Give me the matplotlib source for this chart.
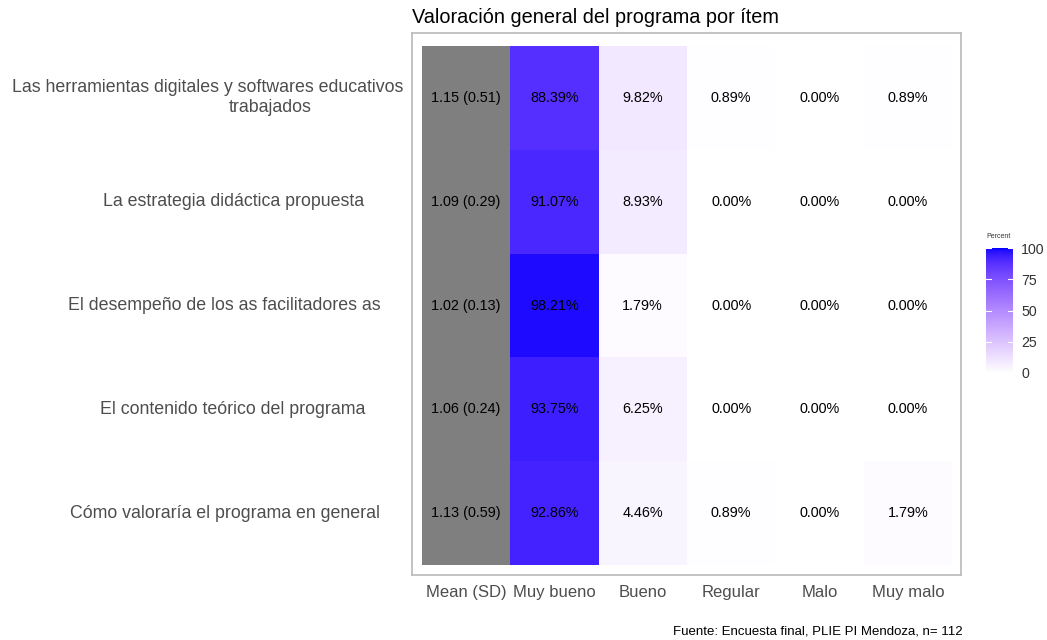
import numpy as np
import matplotlib
matplotlib.use("Agg")
import matplotlib.pyplot as plt
from matplotlib.colors import ListedColormap, Normalize
from matplotlib.transforms import blended_transform_factory

plt.rcParams['font.family'] = ['Liberation Sans', 'DejaVu Sans']

# ---------------- data ----------------
items = [
    "Las herramientas digitales y softwares educativos\ntrabajados",
    "La estrategia didáctica propuesta",
    "El desempeño de los as facilitadores as",
    "El contenido teórico del programa",
    "Cómo valoraría el programa en general",
]
columns = ["Mean (SD)", "Muy bueno", "Bueno", "Regular", "Malo", "Muy malo"]
mean_sd = ["1.15 (0.51)", "1.09 (0.29)", "1.02 (0.13)", "1.06 (0.24)", "1.13 (0.59)"]
muy_bueno = [88.39, 91.07, 98.21, 93.75, 92.86]
bueno = [9.82, 8.93, 1.79, 6.25, 4.46]
regular = [0.89, 0.00, 0.00, 0.00, 0.89]
malo = [0.00, 0.00, 0.00, 0.00, 0.00]
muy_malo = [0.89, 0.00, 0.00, 0.00, 1.79]
title = "Valoración general del programa por ítem"
caption = "Fuente: Encuesta final, PLIE PI Mendoza, n= 112"
legend_title = "Percent"
legend_ticks = [0, 25, 50, 75, 100]

# ---------------- colour scale (Lab interpolation white -> blue) ----------------
def srgb_to_lab(rgb):
    rgb = np.asarray(rgb, float)
    lin = np.where(rgb <= 0.04045, rgb / 12.92, ((rgb + 0.055) / 1.055) ** 2.4)
    M = np.array([[0.4124, 0.3576, 0.1805], [0.2126, 0.7152, 0.0722], [0.0193, 0.1192, 0.9505]])
    xyz = M @ lin
    wp = np.array([0.95047, 1.0, 1.08883])
    t = xyz / wp
    f = np.where(t > (6 / 29) ** 3, np.cbrt(t), t / (3 * (6 / 29) ** 2) + 4 / 29)
    return np.array([116 * f[1] - 16, 500 * (f[0] - f[1]), 200 * (f[1] - f[2])])

def lab_to_srgb(lab):
    L, a, b = lab
    fy = (L + 16) / 116
    fx = fy + a / 500
    fz = fy - b / 200
    def finv(f):
        return np.where(f > 6 / 29, f ** 3, 3 * (6 / 29) ** 2 * (f - 4 / 29))
    wp = np.array([0.95047, 1.0, 1.08883])
    xyz = np.array([finv(fx), finv(fy), finv(fz)]) * wp
    Minv = np.array([[3.2406, -1.5372, -0.4986], [-0.9689, 1.8758, 0.0415], [0.0557, -0.2040, 1.0570]])
    lin = Minv @ xyz
    lin = np.clip(lin, 0, 1)
    rgb = np.where(lin <= 0.0031308, 12.92 * lin, 1.055 * lin ** (1 / 2.4) - 0.055)
    return np.clip(rgb, 0, 1)

lab_lo = srgb_to_lab([1, 1, 1])
lab_hi = srgb_to_lab([0, 0, 1])
cols = [lab_to_srgb(lab_lo + (lab_hi - lab_lo) * t) for t in np.linspace(0, 1, 256)]
cmap = ListedColormap(cols)
norm = Normalize(0, 100)

# ---------------- figure ----------------
W, H = 1047, 640
fig = plt.figure(figsize=(W / 100, H / 100), dpi=100)
ax = fig.add_axes([412 / W, 1 - 575 / H, (961 - 412) / W, (575 - 33) / H])

n = len(items)
ypos = np.arange(n)[::-1]  # first item at top
pct = np.array([muy_bueno, bueno, regular, malo, muy_malo]).T  # rows x 5

xedges = np.arange(0.5, 6.5, 1.0)
yedges = np.arange(-0.5, n + 0.5, 1.0)
ax.pcolormesh(xedges, yedges, pct[::-1], cmap=cmap, norm=norm, shading='flat',
              edgecolors='none', antialiased=False)
ax.bar([0] * n, [1] * n, bottom=ypos - 0.5, width=1.0, color='#7F7F7F', linewidth=0)

for i in range(n):
    ax.text(0, ypos[i], mean_sd[i], ha='center', va='center', fontsize=10.4, color='black')
    for j in range(5):
        ax.text(j + 1, ypos[i], f"{pct[i, j]:.2f}%", ha='center', va='center',
                fontsize=10.4, color='black')

ax.set_xlim(-0.61, 5.6)
ax.set_ylim(-0.596, n - 0.375)
ax.set_xticks(range(len(columns)))
ax.set_xticklabels(columns, fontsize=12, color='#4D4D4D')
ax.set_yticks([])
ax.tick_params(axis='x', length=0, pad=7)
for s in ax.spines.values():
    s.set_color('#BEBEBE')
    s.set_linewidth(1.3)

# y labels (centred as in reference)
label_centres = [208, 233.5, 224, 232.5, 225]
tr = blended_transform_factory(fig.transFigure, ax.transData)
for i in range(n):
    lines = items[i].split("\n")
    xc = label_centres[i] / W
    if len(lines) == 1:
        ax.text(xc, ypos[i], lines[0], transform=tr, ha='center', va='center',
                fontsize=12.8, color='#4D4D4D')
    else:
        ax.text(xc, ypos[i] + 0.097, lines[0], transform=tr, ha='center', va='center',
                fontsize=12.8, color='#4D4D4D')
        ax.text(270.5 / W, ypos[i] - 0.097, lines[1], transform=tr, ha='center', va='center',
                fontsize=12.8, color='#4D4D4D')

fig.text(412 / W, 1 - 17.5 / H, title, ha='left', va='center', fontsize=14.3, color='black')
fig.text(963 / W, 1 - 632 / H, caption, ha='right', va='center', fontsize=9.5, color='black')

# colour bar
cax = fig.add_axes([986 / W, 1 - 373 / H, 27 / W, 125 / H])
grad = np.linspace(0, 100, 256).reshape(-1, 1)
cax.imshow(grad, cmap=cmap, norm=norm, aspect='auto', origin='lower', extent=[0, 1, 0, 100])
cax.set_xlim(0, 1)
cax.set_ylim(0, 100)
cax.set_xticks([])
cax.yaxis.tick_right()
cax.set_yticks(legend_ticks)
cax.set_yticklabels([str(t) for t in legend_ticks], fontsize=10.2, color='#333333')
cax.tick_params(axis='y', length=0, pad=6)
for s in cax.spines.values():
    s.set_visible(False)
for t in legend_ticks:
    cax.plot([0, 0.2], [t, t], color='white', lw=0.8)
    cax.plot([0.8, 1], [t, t], color='white', lw=0.8)
fig.text(986 / W, 1 - 237 / H, legend_title, ha='left', va='center', fontsize=5, color='#333333')

fig.savefig("out.png", dpi=100)
